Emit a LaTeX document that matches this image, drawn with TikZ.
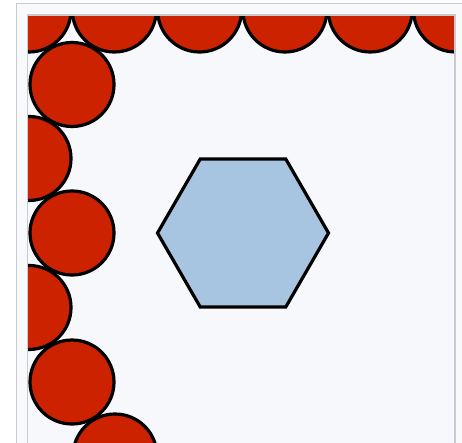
\documentclass[tikz,border=0pt]{standalone}
\usetikzlibrary{calc}
\definecolor{paper}{RGB}{248,249,250}
\definecolor{panel}{RGB}{247,248,251}
\definecolor{rim}{RGB}{200,204,209}
\definecolor{brick}{RGB}{204,34,0}
\definecolor{sky}{RGB}{167,196,225}
\tikzset{
  disc/.style={circle,draw=black,fill=brick,line width=3.2pt,
    minimum size=84pt,inner sep=0pt},
  hexa/.style={draw=black,fill=sky,line width=3.2pt,line join=miter},
  rimline/.style={draw=rim,line width=1.2pt},
}

\begin{document}
\begin{tikzpicture}[x=1pt,y=-1pt]
    \useasboundingbox (0,0) rectangle (462,443);
    \fill[white] (0,0) rectangle (462,443);
    % thumbnail frame
    \path[rimline,fill=paper] (16.5,3.5) rectangle (475,460);
    \fill[panel] (27.5,15) rectangle (455,460);
    \begin{scope}
      \clip (27.5,15) rectangle (455,460);
      \foreach \i in {0,...,5}
        \node[disc] (top\i) at (29+85.3*\i,10) {};
      \foreach \x/\y [count=\k] in {72/84.5,29/158.5,72/233,29/307.5,72/382,115/456}
        \node[disc] (side\k) at (\x,\y) {};
    \end{scope}
    \path[rimline] (27.5,460) -- (27.5,15) -- (455,15) -- (455,460);
    % the hexagon
    \coordinate (hex) at (243,233);
    \draw[hexa] (hex) +(0:85.5) -- +(60:85.5) -- +(120:85.5) -- +(180:85.5)
      -- +(240:85.5) -- +(300:85.5) -- cycle;
  \end{tikzpicture}
\end{document}
